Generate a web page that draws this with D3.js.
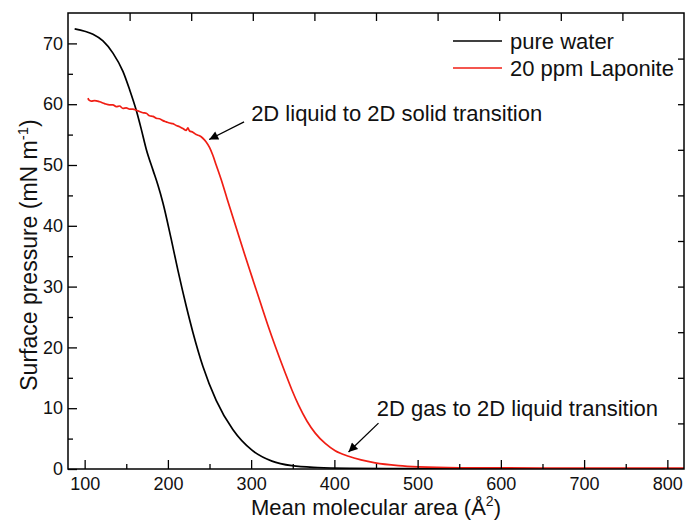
<!DOCTYPE html>
<html>
<head>
<meta charset="utf-8">
<script src="https://cdn.jsdelivr.net/npm/d3@7"></script>
<style>
  body { margin: 0; background: #fff; }
  svg { display: block; font-family: "Liberation Sans", Arial, sans-serif; }
  .axis text { font-size: 18px; fill: #111; }
</style>
</head>
<body>
<svg width="689" height="521"></svg>
<script>
// area (A^2) / surface pressure (mN/m)
var waterArea = [88, 100, 110, 122, 134, 146, 154, 162, 168, 174, 182, 188, 194, 204, 212, 222, 230, 242, 258, 278, 301, 325, 349, 380, 420, 500, 600, 700, 820];
var waterPressure = [72.4, 72.0, 71.5, 70.4, 68.4, 65.4, 62.4, 59.0, 55.9, 52.6, 49.2, 46.7, 43.8, 37.8, 32.7, 26.8, 22.5, 16.9, 11.3, 6.5, 3.1, 1.3, 0.55, 0.25, 0.12, 0.05, 0.03, 0.02, 0.02];

var laponiteArea = [104, 105, 108, 112, 118, 124, 130, 134, 138, 142, 146, 150, 154, 158, 162, 166, 170, 174, 178, 182, 186, 190, 194, 198, 202, 206, 210, 214, 218, 222, 224, 226, 230, 234, 238, 242, 246, 250, 254, 258, 264, 271, 280, 291, 301, 312, 320, 329, 341, 349, 357, 367, 377, 389, 401, 417, 432, 449, 477, 501, 550, 650, 750, 820];
var laponitePressure = [61.0, 60.7, 60.5, 60.6, 60.4, 60.1, 59.9, 59.9, 59.6, 59.7, 59.3, 59.4, 59.2, 59.2, 59.0, 58.8, 58.6, 58.5, 58.1, 58.0, 57.7, 57.6, 57.3, 57.1, 56.9, 56.8, 56.5, 56.3, 56.0, 55.7, 56.1, 55.6, 55.4, 55.0, 54.8, 54.4, 53.8, 52.9, 51.6, 50.0, 47.6, 44.5, 40.6, 35.8, 31.6, 27.0, 23.7, 20.2, 15.8, 13.0, 10.5, 7.9, 5.9, 4.2, 3.0, 2.1, 1.5, 1.0, 0.55, 0.35, 0.2, 0.15, 0.15, 0.15];

var seriesNames = ["pure water", "20 ppm Laponite"];
var seriesColors = ["#000000", "#f01e14"];

var xTicks = [100, 200, 300, 400, 500, 600, 700, 800];
var xMinorTicks = [150, 250, 350, 450, 550, 650, 750];
var yTicks = [0, 10, 20, 30, 40, 50, 60, 70];
var yMinorTicks = [5, 15, 25, 35, 45, 55, 65];

var svg = d3.select("svg"),
    margin = {top: 13, right: 5, bottom: 52, left: 68},
    width = svg.attr("width") - margin.left - margin.right,
    height = svg.attr("height") - margin.top - margin.bottom,
    g = svg.append("g").attr("transform", "translate(" + margin.left + "," + margin.top + ")");

var xScale = d3.scaleLinear().domain([80, 820]).range([0, width]),
    yScale = d3.scaleLinear().domain([0, 75]).range([height, 0]);

var series = [waterArea, laponiteArea].map(function(xs, i) {
    var ps = i === 0 ? waterPressure : laponitePressure;
    return {
        name: seriesNames[i],
        color: seriesColors[i],
        values: xs.map(function(a, j) { return {area: a, pressure: ps[j]}; })
    };
});

var line = d3.line()
    .curve(d3.curveMonotoneX)
    .x(function(d) { return xScale(d.area); })
    .y(function(d) { return yScale(d.pressure); });

// curves, clipped to the frame
svg.append("defs").append("clipPath").attr("id", "clip")
  .append("rect").attr("width", width).attr("height", height);

g.append("g").attr("clip-path", "url(#clip)")
  .selectAll("path")
  .data(series)
  .enter().append("path")
    .attr("fill", "none")
    .attr("stroke", function(d) { return d.color; })
    .attr("stroke-width", 1.7)
    .attr("stroke-linejoin", "round")
    .attr("d", function(d) { return line(d.values); });

// bottom + left axes, ticks pointing inward
function styleAxis(sel) {
    sel.select(".domain").remove();
    sel.selectAll("line").attr("stroke", "#000").attr("stroke-width", 1.3);
}

g.append("g")
    .attr("class", "axis")
    .attr("transform", "translate(0," + height + ")")
    .call(d3.axisBottom(xScale).tickValues(xTicks).tickSize(-9).tickPadding(8).tickFormat(d3.format("d")))
    .call(styleAxis);

g.append("g")
    .attr("class", "axis")
    .attr("transform", "translate(0," + height + ")")
    .call(d3.axisBottom(xScale).tickValues(xMinorTicks).tickSize(-5).tickFormat(""))
    .call(styleAxis);

g.append("g")
    .attr("class", "axis")
    .call(d3.axisLeft(yScale).tickValues(yTicks).tickSize(-9).tickPadding(5).tickFormat(d3.format("d")))
    .call(styleAxis);

g.append("g")
    .attr("class", "axis")
    .call(d3.axisLeft(yScale).tickValues(yMinorTicks).tickSize(-5).tickFormat(""))
    .call(styleAxis);

// mirrored top + right axes (ten equal divisions, no labels)
var topTicks = d3.range(1, 10).map(function(k) { return 80 + k * 74; });
var rightTicks = d3.range(1, 10).map(function(k) { return k * 7.5; });

g.append("g")
    .attr("class", "axis")
    .call(d3.axisTop(xScale).tickValues(topTicks).tickSize(-8).tickFormat(""))
    .call(styleAxis);

g.append("g")
    .attr("class", "axis")
    .attr("transform", "translate(" + width + ",0)")
    .call(d3.axisRight(yScale).tickValues(rightTicks).tickSize(-6).tickFormat(""))
    .call(styleAxis);

g.append("rect")
    .attr("width", width)
    .attr("height", height)
    .attr("fill", "none")
    .attr("stroke", "#000")
    .attr("stroke-width", 1.5);

// axis titles
var xTitle = g.append("text")
    .attr("x", width / 2)
    .attr("y", height + 46)
    .attr("text-anchor", "middle")
    .style("font-size", "22px")
    .attr("fill", "#111")
    .text("Mean molecular area (Å");
xTitle.append("tspan").attr("dy", -9).style("font-size", "14px").text("2");
xTitle.append("tspan").attr("dy", 9).text(")");

var yTitle = g.append("text")
    .attr("transform", "translate(-31," + yScale(35.2) + ") rotate(-90)")
    .attr("text-anchor", "middle")
    .style("font-size", "23px")
    .attr("fill", "#111")
    .text("Surface pressure (mN m");
yTitle.append("tspan").attr("dy", -9).style("font-size", "15px").text("-1");
yTitle.append("tspan").attr("dy", 9).text(")");

// legend
var legend = g.selectAll(".legend")
    .data(series)
    .enter().append("g")
      .attr("class", "legend")
      .attr("transform", function(d, i) { return "translate(385," + (28 + i * 27) + ")"; });

legend.append("line")
    .attr("x1", 0).attr("x2", 49)
    .attr("stroke", function(d) { return d.color; })
    .attr("stroke-width", 1.7);

legend.append("text")
    .attr("x", 57)
    .attr("dy", "0.35em")
    .style("font-size", "22px")
    .attr("fill", "#111")
    .text(function(d) { return d.name; });

// annotations with arrows
var notes = [
    {text: "2D liquid to 2D solid transition", tx: 300, ty: 57.3, from: [291.5, 57.1], to: [249.6, 54.2]},
    {text: "2D gas to 2D liquid transition", tx: 451, ty: 8.7, from: [453, 7.55], to: [417, 2.8]}
];

svg.select("defs").append("marker")
    .attr("id", "head")
    .attr("viewBox", "0 0 10 10")
    .attr("refX", 10).attr("refY", 5)
    .attr("markerWidth", 14).attr("markerHeight", 9)
    .attr("markerUnits", "userSpaceOnUse")
    .attr("orient", "auto")
  .append("path")
    .attr("d", "M0,0 L10,5 L0,10 z")
    .attr("fill", "#000");

var note = g.selectAll(".note").data(notes).enter().append("g").attr("class", "note");

note.append("line")
    .attr("x1", function(d) { return xScale(d.from[0]); })
    .attr("y1", function(d) { return yScale(d.from[1]); })
    .attr("x2", function(d) { return xScale(d.to[0]); })
    .attr("y2", function(d) { return yScale(d.to[1]); })
    .attr("stroke", "#000")
    .attr("stroke-width", 1.3)
    .attr("marker-end", "url(#head)");

note.append("text")
    .attr("x", function(d) { return xScale(d.tx); })
    .attr("y", function(d) { return yScale(d.ty); })
    .style("font-size", "22px")
    .attr("fill", "#111")
    .text(function(d) { return d.text; });
</script>
</body>
</html>
